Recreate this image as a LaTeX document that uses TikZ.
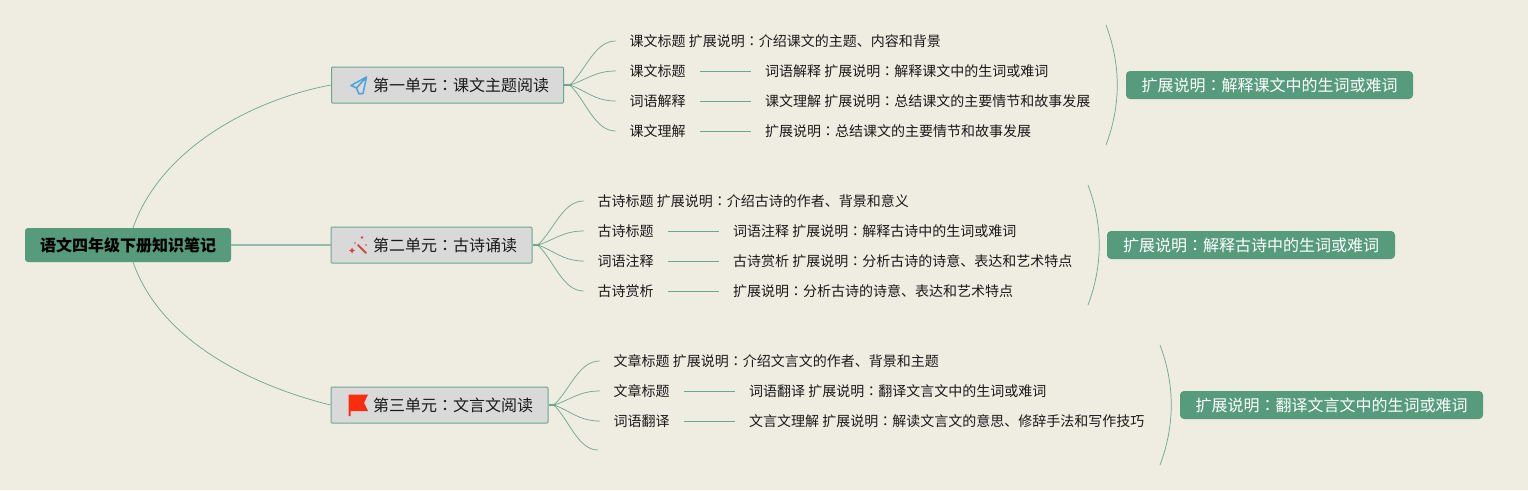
\documentclass[tikz,border=0pt]{standalone}
\usepackage{fontspec}
\setmainfont{Noto Sans CJK SC}
\newfontfamily\tcfont{Noto Sans CJK TC}
\newcommand{\cln}{{\tcfont\char"FF1A}}
\usetikzlibrary{calc}
\definecolor{bgc}{HTML}{EFECE2}
\definecolor{grn}{HTML}{569B7C}
\definecolor{lnc}{HTML}{6FA58F}
\definecolor{boxc}{HTML}{D9D9D9}
\definecolor{txt}{HTML}{1A1A1A}
\definecolor{planec}{HTML}{4AA3DA}
\definecolor{wandc}{HTML}{CC4A3C}
\definecolor{flagc}{HTML}{F92D0E}
\tikzset{
  link/.style={draw=lnc,line width=0.7pt},
  trunk/.style={draw=lnc!75!white,line width=1.3pt},
  rootbox/.style={fill=grn,rounded corners=3pt,font=\fontsize{16}{18}\selectfont\bfseries,text=black,minimum height=34pt,inner sep=0pt,anchor=center},
  topic/.style={fill=boxc,draw=lnc,line width=1pt,rounded corners=1pt,font=\fontsize{16}{18}\selectfont,text=txt,minimum height=36pt,inner sep=0pt,anchor=center},
  leaf/.style={font=\fontsize{14}{16}\selectfont,text=txt,inner xsep=14pt,inner ysep=0pt,anchor=west},
  callout/.style={fill=grn,rounded corners=4pt,font=\fontsize{16}{18}\selectfont,text=white,minimum height=28pt,inner sep=0pt,anchor=center},
  stem/.style={draw=lnc,line width=1.6pt},
  hub/.style={circle,fill=lnc,inner sep=0pt,minimum size=3pt},
}
\newcommand{\fan}[2]{\draw[link] (#1) .. controls ($(#1)!0.35!(#2)$) and ($(#2)!0.45!(#1 |- #2)$) .. (#2);}
\begin{document}
\begin{tikzpicture}[x=1pt,y=-1pt]
\useasboundingbox (0,0) rectangle (1528,490);
\fill[bgc] (0,0) rectangle (1528,490);
% root and topics
\node[rootbox,minimum width=206pt] (root) at (128,245) {语文四年级下册知识笔记};
\node[topic,minimum width=232pt] (t1) at (447.5,85) {\hspace{27pt}第一单元\cln 课文主题阅读};
\node[topic,minimum width=201pt] (t2) at (431.5,245) {\hspace{27pt}第二单元\cln 古诗诵读};
\node[topic,minimum width=217pt] (t3) at (439.5,405) {\hspace{27pt}第三单元\cln 文言文阅读};
\coordinate (rt) at (133,228);
\coordinate (rb) at (133,262);
\draw[link] (rt) .. controls (160,150) and (250,100) .. (t1.west);
\draw[trunk] (root.east) -- (t2.west);
\draw[link] (rb) .. controls (160,340) and (250,385) .. (t3.west);
% hubs
\coordinate (h1) at (570,85);
\coordinate (h2) at (538,245);
\coordinate (h3) at (554,405);
\draw[stem] (t1.east) -- (h1);
\draw[stem] (t2.east) -- (h2);
\draw[stem] (t3.east) -- (h3);
\node[hub] at (h1) {};
\node[hub] at (h2) {};
\node[hub] at (h3) {};
% section 1
\node[leaf] (a1) at (615.5,41) {课文标题 扩展说明\cln 介绍课文的主题、内容和背景};
\node[leaf] (a2) at (615.5,71) {课文标题};
\node[leaf] (a3) at (615.5,101) {词语解释};
\node[leaf] (a4) at (615.5,131) {课文理解};
\node[leaf] (a5) at (751,71) {词语解释 扩展说明\cln 解释课文中的生词或难词};
\node[leaf] (a6) at (751,101) {课文理解 扩展说明\cln 总结课文的主要情节和故事发展};
\node[leaf] (a7) at (751,131) {扩展说明\cln 总结课文的主要情节和故事发展};
\foreach \n in {a1,a2,a3,a4} {\fan{h1}{\n.west}}
\draw[link] (a2.east) -- (a5.west);
\draw[link] (a3.east) -- (a6.west);
\draw[link] (a4.east) -- (a7.west);
\node[callout,minimum width=287pt] (c1) at (1269.5,85) {扩展说明\cln 解释课文中的生词或难词};
\coordinate (b1a) at (1106,25);
\coordinate (b1b) at (1106,145);
\draw[link] (b1a) .. controls (1121,65) and (1121,105) .. (b1b);
% section 2
\node[leaf] (d1) at (583.5,201) {古诗标题 扩展说明\cln 介绍古诗的作者、背景和意义};
\node[leaf] (d2) at (583.5,231) {古诗标题};
\node[leaf] (d3) at (583.5,261) {词语注释};
\node[leaf] (d4) at (583.5,291) {古诗赏析};
\node[leaf] (d5) at (719,231) {词语注释 扩展说明\cln 解释古诗中的生词或难词};
\node[leaf] (d6) at (719,261) {古诗赏析 扩展说明\cln 分析古诗的诗意、表达和艺术特点};
\node[leaf] (d7) at (719,291) {扩展说明\cln 分析古诗的诗意、表达和艺术特点};
\foreach \n in {d1,d2,d3,d4} {\fan{h2}{\n.west}}
\draw[link] (d2.east) -- (d5.west);
\draw[link] (d3.east) -- (d6.west);
\draw[link] (d4.east) -- (d7.west);
\node[callout,minimum width=288pt] (c2) at (1251,245) {扩展说明\cln 解释古诗中的生词或难词};
\coordinate (b2a) at (1088,185);
\coordinate (b2b) at (1088,305);
\draw[link] (b2a) .. controls (1103,225) and (1103,265) .. (b2b);
% section 3
\node[leaf] (e1) at (599.5,361) {文章标题 扩展说明\cln 介绍文言文的作者、背景和主题};
\node[leaf] (e2) at (599.5,391) {文章标题};
\node[leaf] (e3) at (599.5,421) {词语翻译};
\coordinate (e4) at (598,450);
\node[leaf] (e5) at (735,391) {词语翻译 扩展说明\cln 翻译文言文中的生词或难词};
\node[leaf] (e6) at (735,421) {文言文理解 扩展说明\cln 解读文言文的意思、修辞手法和写作技巧};
\foreach \n in {e1.west,e2.west,e3.west,e4} {\fan{h3}{\n}}
\draw[link] (e2.east) -- (e5.west);
\draw[link] (e3.east) -- (e6.west);
\node[callout,minimum width=303pt] (c3) at (1331.5,405) {扩展说明\cln 翻译文言文中的生词或难词};
\coordinate (b3a) at (1160,345);
\coordinate (b3b) at (1160,465);
\draw[link] (b3a) .. controls (1175,385) and (1175,425) .. (b3b);
% icons
\draw[draw=planec,line width=1.5pt,line join=round]
  (366.5,77) -- (351,85.5) -- (356.5,88) -- (359,94) -- (363,93.5) -- cycle
  (366.5,77) -- (356.5,88);
\begin{scope}[wandc]
  \draw[line width=1.8pt,line cap=round] (358,245) -- (366,253);
  \fill (352,247.5) -- (353,249.5) -- (355,250.5) -- (353,251.5) -- (352,253.5) -- (351,251.5) -- (349,250.5) -- (351,249.5) -- cycle;
  \fill (362,237.5) circle (1.4pt);
  \fill (366,245) circle (0.8pt);
  \fill (355,243) circle (0.9pt);
\end{scope}
\fill[flagc] (348.5,394.5) -- (368,394.5) -- (364,403) -- (368,411) -- (350.5,411) -- (350.5,416) -- (348.5,416) -- cycle;
\end{tikzpicture}
\end{document}
